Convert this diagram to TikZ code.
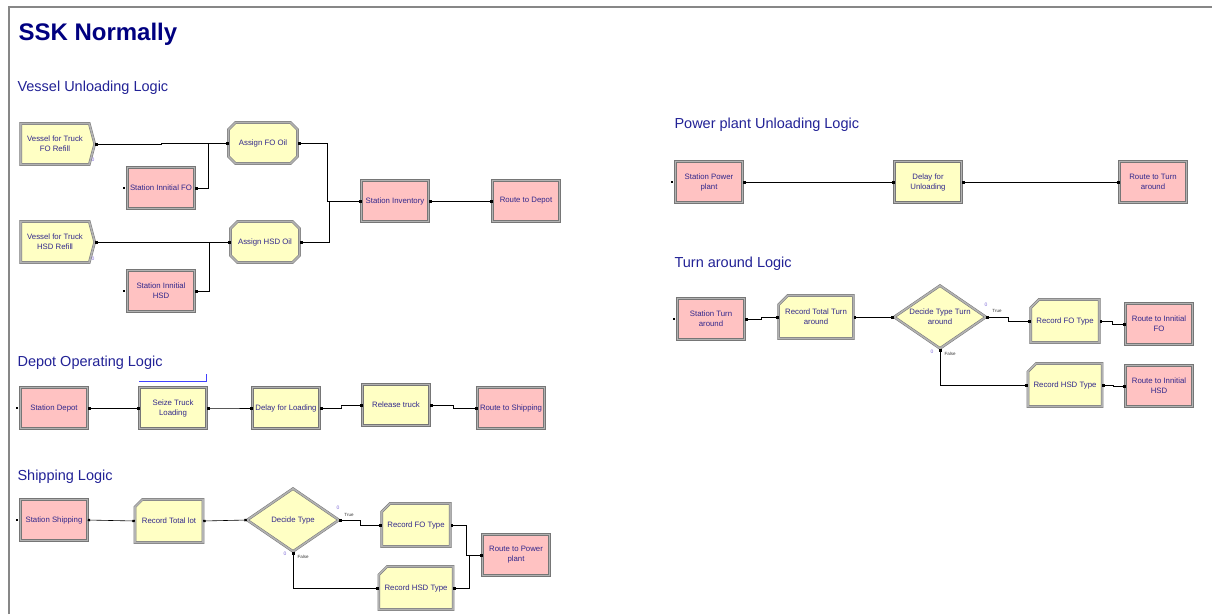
\documentclass[tikz,border=0pt]{standalone}
\usepackage{fontspec}
\setmainfont{Liberation Sans}
\usetikzlibrary{calc,shapes.geometric,shapes.misc,shapes.symbols,arrows.meta}

\definecolor{modyellow}{RGB}{255,255,196}
\definecolor{modpink}{RGB}{255,194,194}
\definecolor{modedge}{RGB}{118,118,118}
\definecolor{modband}{RGB}{178,178,178}
\definecolor{modtext}{RGB}{50,40,140}
\definecolor{titlenavy}{RGB}{0,0,128}
\definecolor{secblue}{RGB}{34,34,150}
\definecolor{countpurple}{RGB}{125,105,215}
\definecolor{frame}{RGB}{135,135,135}

\tikzset{
    module/.style={draw=modedge, double=modband, double distance=1.6pt, line width=0.5pt,
        text=modtext, font=\fontsize{7.8}{10}\selectfont, align=center, inner sep=1pt,
        minimum width=67, minimum height=41},
    process/.style={module, rectangle, fill=modyellow},
    station/.style={module, rectangle, fill=modpink},
    assign/.style={module, chamfered rectangle, chamfered rectangle xsep=3.5pt, fill=modyellow, minimum width=69},
    record/.style={module, chamfered rectangle, chamfered rectangle corners=north west,
        chamfered rectangle xsep=5.5pt, fill=modyellow, minimum width=68, minimum height=43},
    create/.style={module, signal, signal to=east, signal pointer angle=150, fill=modyellow,
        minimum width=74},
    decide/.style={module, diamond, aspect=1.45, inner sep=0pt, fill=modyellow,
        minimum width=92, minimum height=63},
    conn/.style={line width=0.6pt, {Square[length=2.4pt,width=2.4pt]}-{Square[length=2.4pt,width=2.4pt]}},
    section/.style={anchor=west, text=secblue, font=\fontsize{14.5}{16}\selectfont},
    counter/.style={text=countpurple, font=\fontsize{5}{5}\selectfont, inner sep=0pt},
    branch/.style={text=black!80, font=\fontsize{4.5}{5}\selectfont, inner sep=0pt},
}

\begin{document}
\begin{tikzpicture}[x=1pt, y=-1pt]
    \useasboundingbox (0,0) rectangle (1212,614);
    \fill[white] (0,0) rectangle (1212,614);
    \draw[frame, line width=1.8pt] (9,614) -- (9,7) -- (1212,7);

    \node [anchor=west, text=titlenavy, font=\fontsize{24}{26}\selectfont\bfseries] (title) at (15,34) {SSK Normally};

    % Vessel unloading
    \node [section] (secvessel) at (14,88) {Vessel Unloading Logic};
    \node [create] (vfo) at (55,144) {Vessel for Truck\\FO Refill};
    \node [station] (sifo) at (161,188) {Station Innitial FO};
    \node [assign] (afo) at (263,143) {Assign FO Oil};
    \node [create] (vhsd) at (55,242) {Vessel for Truck\\HSD Refill};
    \node [station] (sihsd) at (161,291) {Station Innitial\\HSD};
    \node [assign] (ahsd) at (265,242) {Assign HSD Oil};
    \node [station] (sinv) at (395,201) {Station Inventory};
    \node [station] (rdep) at ($(sinv) + (131, 0)$) {Route to Depot};
    \node [counter] (cvfo) at (93,160) {0};
    \node [counter] (cvhsd) at (93,259) {0};
    \draw[conn] (vfo.east) -| ($(vfo.east)!.5!(afo.west)$) |- (afo.west);
    \draw[conn] (sifo.east) -- ++(14,0) |- (afo.west);
    \draw[conn] (vhsd.east) -- (ahsd.west);
    \draw[conn] (sihsd.east) -- ++(15,0) |- (ahsd.west);
    \draw[conn] (afo.east) -- ++(30,0) |- (sinv.west);
    \draw[conn] (ahsd.east) -- ++(30,0) |- (sinv.west);
    \draw[conn] (sinv.east) -- (rdep.west);
    \fill ($(sifo.west) + (-4,-1)$) rectangle ++(2,2);
    \fill ($(sihsd.west) + (-4,-1)$) rectangle ++(2,2);

    % Power plant unloading
    \node [section] (secpower) at (671,125) {Power plant Unloading Logic};
    \node [station] (spp) at (709,182) {Station Power\\plant};
    \node [process] (dunl) at ($(spp) + (219, 0)$) {Delay for\\Unloading};
    \node [station] (rturn) at ($(dunl) + (225, 0)$) {Route to Turn\\around};
    \draw[conn] (spp.east) -- (dunl.west);
    \draw[conn] (dunl.east) -- (rturn.west);
    \fill ($(spp.west) + (-4,-1)$) rectangle ++(2,2);

    % Turn around
    \node [section] (secturn) at (671,264) {Turn around Logic};
    \node [station] (sta) at (711,319) {Station Turn\\around};
    \node [record] (rtt) at (816,317) {Record Total Turn\\around};
    \node [decide] (dtt) at (940,317) {Decide Type Turn\\around};
    \node [record] (rfo2) at (1065,321) {Record FO Type};
    \node [station] (rifo) at (1159,324) {Route to Innitial\\FO};
    \node [record] (rhsd2) at (1065,385) {Record HSD Type};
    \node [station] (rihsd) at (1159,386) {Route to Innitial\\HSD};
    \draw[conn] (sta.east) -| ($(sta.east)!.5!(rtt.west)$) |- (rtt.west);
    \draw[conn] (rtt.east) -- (dtt.west);
    \draw[conn] (dtt.east) -| ($(dtt.east)!.5!(rfo2.west)$) |- (rfo2.west);
    \draw[conn] (dtt.south) |- (rhsd2.west);
    \draw[conn] (rfo2.east) -| ($(rfo2.east)!.5!(rifo.west)$) |- (rifo.west);
    \draw[conn] (rhsd2.east) -| ($(rhsd2.east)!.5!(rihsd.west)$) |- (rihsd.west);
    \fill ($(sta.west) + (-4,-1)$) rectangle ++(2,2);
    \node [counter] (cttt) at (986,305) {0};
    \node [branch] (lttt) at (997,311) {True};
    \node [counter] (cttf) at (932,352) {0};
    \node [branch] (lttf) at (950,354) {False};

    % Depot operating
    \node [section] (secdepot) at (14,363) {Depot Operating Logic};
    \node [station] (sdep) at (54,408) {Station Depot};
    \node [process] (stl) at ($(sdep) + (119, 0)$) {Seize Truck\\Loading};
    \node [process] (dld) at ($(stl) + (113, 0)$) {Delay for Loading};
    \node [process] (rtr) at ($(dld) + (110, -3)$) {Release truck};
    \node [station] (rship) at ($(sdep) + (457, 0)$) {Route to Shipping};
    \draw[blue!75, line width=0.9pt] ($(stl.north west) + (0,-6)$) -- ($(stl.north east) + (0,-6)$) -- ++(0,-7);
    \draw[conn] (sdep.east) -- (stl.west);
    \draw[conn] (stl.east) -| ($(stl.east)!.5!(dld.west)$) |- (dld.west);
    \draw[conn] (dld.east) -| ($(dld.east)!.5!(rtr.west)$) |- (rtr.west);
    \draw[conn] (rtr.east) -| ($(rtr.east)!.5!(rship.west)$) |- (rship.west);
    \fill ($(sdep.west) + (-4,-1)$) rectangle ++(2,2);

    % Shipping
    \node [section] (secship) at (14,477) {Shipping Logic};
    \node [station] (sship) at (54,520) {Station Shipping};
    \node [record] (rtl) at (169,521) {Record Total lot};
    \node [decide] (dtype) at (293,520) {Decide Type};
    \node [record] (rfo1) at (416,525) {Record FO Type};
    \node [record] (rhsd1) at (416,588) {Record HSD Type};
    \node [station] (rpp) at (516,555) {Route to Power\\plant};
    \draw[conn] (sship.east) -- (rtl.west);
    \draw[conn] (rtl.east) -- (dtype.west);
    \draw[conn] (dtype.east) -| ($(dtype.east)!.5!(rfo1.west)$) |- (rfo1.west);
    \draw[conn] (dtype.south) |- (rhsd1.west);
    \draw[conn] (rfo1.east) -- ++(16,0) |- (rpp.west);
    \draw[conn] (rhsd1.east) -- ++(16,0) |- (rpp.west);
    \fill ($(sship.west) + (-4,-1)$) rectangle ++(2,2);
    \node [counter] (cst) at (338,508) {0};
    \node [branch] (lst) at (349,515) {True};
    \node [counter] (csf) at (285,554) {0};
    \node [branch] (lsf) at (303,557) {False};
\end{tikzpicture}
\end{document}
